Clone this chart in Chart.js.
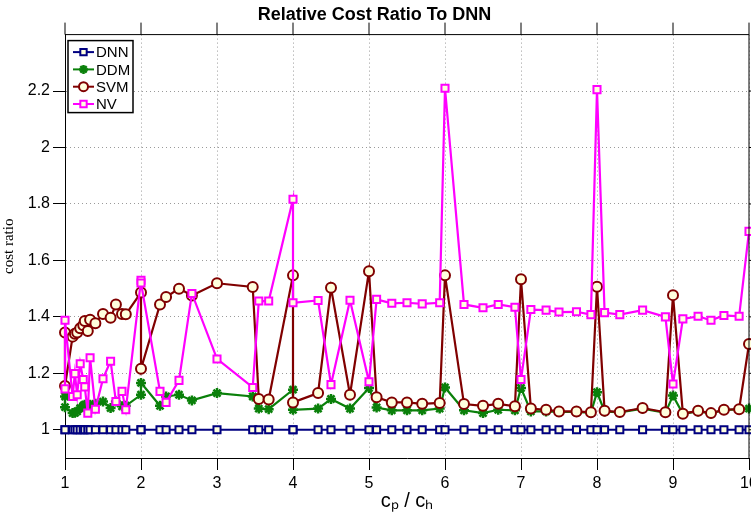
<!DOCTYPE html>
<html>
<head>
<meta charset="utf-8">
<script src="https://cdn.jsdelivr.net/npm/chart.js@4.4.0/dist/chart.umd.min.js"></script>
<style>
  html, body { margin: 0; padding: 0; background: #fff; }
</style>
</head>
<body>
<canvas id="chart" width="751" height="516"></canvas>
<script>
// cp / ch ratios (x positions of every sample, shared by all series)
const ratios = [1.0, 1.0, 1.1, 1.13, 1.16, 1.2, 1.24, 1.26, 1.3, 1.33,
  1.4, 1.5, 1.6, 1.67, 1.75, 1.8, 2.0, 2.0, 2.25, 2.33,
  2.5, 2.67, 3.0, 3.47, 3.55, 3.68, 4.0, 4.0, 4.33, 4.5,
  4.75, 5.0, 5.1, 5.3, 5.5, 5.7, 5.93, 6.0, 6.25, 6.5,
  6.7, 6.92, 7.0, 7.13, 7.33, 7.5, 7.73, 7.92, 8.0, 8.1,
  8.3, 8.6, 8.9, 9.0, 9.13, 9.33, 9.5, 9.67, 9.87, 10.0];

const dnn = [1, 1, 1, 1, 1, 1, 1, 1, 1, 1,
  1, 1, 1, 1, 1, 1, 1, 1, 1, 1,
  1, 1, 1, 1, 1, 1, 1, 1, 1, 1,
  1, 1, 1, 1, 1, 1, 1, 1, 1, 1,
  1, 1, 1, 1, 1, 1, 1, 1, 1, 1,
  1, 1, 1, 1, 1, 1, 1, 1, 1, 1];

const ddm = [1.118, 1.08, 1.059, 1.06, 1.065, 1.077, 1.085, 1.089, 1.085, 1.089,
  1.092, 1.10, 1.077, 1.10, 1.083, 1.085, 1.124, 1.166, 1.085, 1.118,
  1.124, 1.104, 1.130, 1.118, 1.075, 1.073, 1.142, 1.071, 1.075, 1.109,
  1.075, 1.148, 1.079, 1.069, 1.069, 1.069, 1.075, 1.15, 1.069, 1.059,
  1.071, 1.069, 1.148, 1.065, 1.065, 1.063, 1.063, 1.06, 1.133, 1.065,
  1.062, 1.075, 1.06, 1.121, 1.057, 1.065, 1.058, 1.07, 1.072, 1.075];

const svm = [1.345, 1.155, 1.33, 1.34, 1.345, 1.36, 1.37, 1.385, 1.35, 1.39,
  1.377, 1.41, 1.397, 1.444, 1.41, 1.409, 1.486, 1.216, 1.444, 1.47,
  1.50, 1.476, 1.519, 1.506, 1.109, 1.107, 1.547, 1.097, 1.13, 1.503,
  1.124, 1.562, 1.115, 1.097, 1.097, 1.092, 1.095, 1.547, 1.091, 1.085,
  1.092, 1.083, 1.533, 1.075, 1.071, 1.065, 1.065, 1.062, 1.507, 1.067,
  1.063, 1.077, 1.062, 1.477, 1.057, 1.067, 1.059, 1.071, 1.073, 1.304];

const nv = [1.145, 1.388, 1.118, 1.199, 1.124, 1.234, 1.178, 1.152, 1.059, 1.255,
  1.073, 1.181, 1.243, 1.10, 1.136, 1.071, 1.53, 1.52, 1.136, 1.097,
  1.175, 1.483, 1.251, 1.15, 1.456, 1.456, 1.817, 1.45, 1.458, 1.16,
  1.459, 1.17, 1.462, 1.448, 1.45, 1.446, 1.45, 2.21, 1.444, 1.432,
  1.444, 1.434, 1.178, 1.426, 1.424, 1.417, 1.418, 1.408, 2.205, 1.415,
  1.408, 1.424, 1.40, 1.162, 1.393, 1.402, 1.388, 1.405, 1.402, 1.703];

const xTicks = [1, 2, 3, 4, 5, 6, 7, 8, 9, 10];
const xTickLabels = ['1', '2', '3', '4', '5', '6', '7', '8', '9', '10'];
const yTicks = [1, 1.2, 1.4, 1.6, 1.8, 2, 2.2];
const yTickLabels = ['1', '1.2', '1.4', '1.6', '1.8', '2', '2.2'];

const FONT = '"Liberation Sans", Arial, sans-serif';
const FILL = '#ffffdd';

function points(values) {
  return ratios.map((r, i) => ({ x: r, y: values[i] }));
}

function series(label, values, color, style, order) {
  return {
    label: label,
    data: points(values),
    borderColor: color,
    borderWidth: 2.2,
    pointStyle: style,
    pointRadius: 5,
    pointBorderWidth: style === 'star' ? 2.5 : 2,
    pointBorderColor: color,
    pointBackgroundColor: style === 'star' ? color : FILL,
    tension: 0,
    clip: false,
    order: order
  };
}

// legend drawn inside the plot, line sample with marker like the original
const boxLegend = {
  id: 'boxLegend',
  afterDatasetsDraw(chart) {
    const { ctx, chartArea } = chart;
    const x0 = chartArea.left + 3, y0 = chartArea.top + 6;
    ctx.save();
    ctx.fillStyle = '#fff';
    ctx.fillRect(x0, y0, 65, 72);
    ctx.strokeStyle = '#000';
    ctx.lineWidth = 1.5;
    ctx.strokeRect(x0, y0, 65, 72);
    chart.data.datasets.forEach((ds, i) => {
      const y = y0 + 11.5 + i * 17.3;
      ctx.strokeStyle = ds.borderColor;
      ctx.lineWidth = 2;
      ctx.beginPath();
      ctx.moveTo(x0 + 5, y);
      ctx.lineTo(x0 + 26, y);
      ctx.stroke();
      ctx.fillStyle = ds.pointBackgroundColor;
      ctx.lineWidth = ds.pointBorderWidth;
      Chart.helpers.drawPoint(ctx, {
        pointStyle: ds.pointStyle, radius: 4.5, borderWidth: ds.pointBorderWidth, rotation: 0
      }, x0 + 15.5, y);
      ctx.fillStyle = '#000';
      ctx.font = '15px ' + FONT;
      ctx.textBaseline = 'middle';
      ctx.textAlign = 'left';
      ctx.fillText(ds.label, x0 + 28, y + 1);
    });
    ctx.restore();
  }
};

// top / right box lines and the outward ticks on those sides
const boxFrame = {
  id: 'boxFrame',
  afterDraw(chart) {
    const { ctx, chartArea } = chart;
    const xs = chart.scales.x, ys = chart.scales.y;
    ctx.save();
    ctx.strokeStyle = '#000';
    ctx.lineWidth = 1;
    ctx.beginPath();
    ctx.moveTo(chartArea.left, chartArea.top);
    ctx.lineTo(chartArea.right, chartArea.top);
    ctx.lineTo(chartArea.right, chartArea.bottom);
    xs.ticks.forEach(t => {
      const px = xs.getPixelForValue(t.value);
      ctx.moveTo(px, chartArea.top);
      ctx.lineTo(px, chartArea.top - 12);
    });
    ys.ticks.forEach(t => {
      const py = ys.getPixelForValue(t.value);
      ctx.moveTo(chartArea.right, py);
      ctx.lineTo(chartArea.right + 12, py);
    });
    ctx.stroke();
    ctx.restore();
  }
};

const ctx = document.getElementById('chart').getContext('2d');
const chart = new Chart(ctx, {
  type: 'line',
  data: {
    datasets: [
      series('DNN', dnn, '#000080', 'rect', 3),
      series('DDM', ddm, '#0a800a', 'star', 2),
      series('SVM', svm, '#800000', 'circle', 1),
      series('NV', nv, '#ff00ff', 'rect', 0)
    ]
  },
  options: {
    responsive: false,
    animation: false,
    layout: { autoPadding: false, padding: { left: 0, right: 2, top: 0, bottom: 0 } },
    plugins: {
      legend: { display: false },
      tooltip: { enabled: false },
      title: {
        display: true,
        text: 'Relative Cost Ratio To DNN',
        color: '#000',
        font: { family: FONT, size: 18, weight: 'bold', lineHeight: 1.2 },
        padding: { top: 4, bottom: 9 }
      }
    },
    scales: {
      x: {
        type: 'linear',
        min: 1,
        max: 10,
        afterBuildTicks: s => { s.ticks = xTicks.map(v => ({ value: v })); },
        afterFit: s => { s.height = 58; s.paddingLeft = 0; s.paddingRight = 0; },
        ticks: {
          color: '#000',
          font: { family: FONT, size: 16 },
          padding: 4,
          maxRotation: 0,
          callback: (v, i) => xTickLabels[i]
        },
        grid: { color: '#9a9a9a', lineWidth: 1, tickLength: 12, tickColor: '#000', tickWidth: 1 },
        border: { color: '#000', width: 1, dash: [1, 3] },
        title: {
          display: true,
          text: 'cₚ / cₕ',
          color: '#000',
          font: { family: FONT, size: 20, lineHeight: 1.1 },
          padding: { top: 0, bottom: 4 }
        }
      },
      y: {
        type: 'linear',
        min: 0.9,
        max: 2.4,
        afterBuildTicks: s => { s.ticks = yTicks.map(v => ({ value: v })); },
        afterFit: s => { s.width = 65; s.paddingTop = 0; s.paddingBottom = 0; },
        ticks: {
          color: '#000',
          font: { family: FONT, size: 16 },
          padding: 3,
          callback: (v, i) => yTickLabels[i]
        },
        grid: { color: '#9a9a9a', lineWidth: 1, tickLength: 12, tickColor: '#000', tickWidth: 1 },
        border: { color: '#000', width: 1, dash: [1, 3] },
        title: {
          display: true,
          text: 'cost ratio',
          color: '#000',
          font: { family: '"Liberation Serif", "Times New Roman", serif', size: 15, lineHeight: 1.2 },
          padding: { top: 0, bottom: 0 }
        }
      }
    }
  },
  plugins: [boxLegend, boxFrame]
});
</script>
</body>
</html>
